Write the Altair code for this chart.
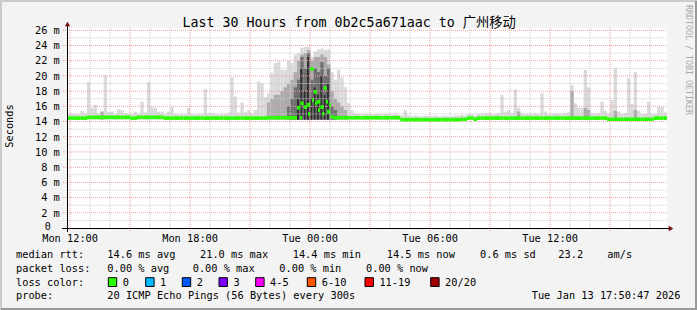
import altair as alt
import pandas as pd
from datetime import datetime

FONT = 'DejaVu Sans Mono, "Noto Sans CJK SC", monospace'

# ------------------------------------------------------------------ data
title_text = "Last 30 Hours from 0b2c5a671aac to 广州移动"
y_title = "Seconds"
watermark = "RRDTOOL / TOBI OETIKER"

start_time = datetime(2026, 1, 12, 11, 50, 47)
total_minutes = 1800
bin_minutes = 10

# median rtt per 10-minute step (ms)
median_ms = [
    14.45, 14.45, 14.45, 14.45, 14.45, 14.45, 14.55, 14.55, 14.55, 14.55,
    14.55, 14.55, 14.55, 14.55, 14.55, 14.55, 14.55, 14.55, 14.55, 14.45,
    14.45, 14.55, 14.55, 14.55, 14.55, 14.55, 14.55, 14.55, 14.55, 14.45,
    14.45, 14.45, 14.45, 14.45, 14.45, 14.45, 14.45, 14.45, 14.45, 14.45,
    14.45, 14.45, 14.45, 14.45, 14.45, 14.45, 14.45, 14.45, 14.45, 14.45,
    14.45, 14.45, 14.45, 14.45, 14.45, 14.45, 14.45, 14.45, 14.45, 14.45,
    14.5, 14.5, 14.5, 14.5, 14.5, 14.5, 14.5, 14.5, 14.5, 15.8,
    16.4, 15.9, 16.2, 20.9, 17.9, 16.6, 15.9, 18.4, 15.3, 14.6,
    14.5, 14.5, 14.5, 14.5, 14.5, 14.5, 14.5, 14.5, 14.5, 14.5,
    14.5, 14.5, 14.5, 14.5, 14.5, 14.5, 14.5, 14.5, 14.5, 14.5,
    14.25, 14.25, 14.25, 14.25, 14.25, 14.25, 14.25, 14.25, 14.25, 14.25,
    14.25, 14.25, 14.25, 14.25, 14.25, 14.25, 14.25, 14.25, 14.3, 14.3,
    14.45, 14.45, 14.3, 14.45, 14.45, 14.45, 14.45, 14.45, 14.45, 14.45,
    14.45, 14.45, 14.45, 14.45, 14.45, 14.45, 14.45, 14.45, 14.45, 14.45,
    14.45, 14.45, 14.45, 14.45, 14.45, 14.45, 14.45, 14.45, 14.45, 14.45,
    14.45, 14.45, 14.45, 14.45, 14.45, 14.45, 14.45, 14.45, 14.45, 14.45,
    14.45, 14.45, 14.3, 14.3, 14.3, 14.3, 14.3, 14.3, 14.3, 14.3,
    14.3, 14.3, 14.3, 14.3, 14.3, 14.3, 14.45, 14.45, 14.45, 14.45,
]

# highest ping per step (outer light smoke top, ms)
smoke_max_ms = [
    15.0, 15.1, 15.0, 15.0, 15.4, 15.1, 19.2, 15.8, 16.2, 15.1,
    15.3, 20.1, 15.3, 15.3, 15.0, 15.6, 15.5, 15.1, 15.0, 15.0,
    15.3, 15.0, 16.6, 15.2, 19.2, 15.9, 15.8, 15.3, 15.3, 15.0,
    15.3, 15.9, 15.0, 14.9, 15.0, 15.0, 15.8, 15.0, 14.9, 15.0,
    15.0, 18.3, 15.1, 15.1, 15.0, 14.9, 15.0, 15.0, 15.1, 19.8,
    17.3, 15.2, 16.5, 15.2, 15.5, 15.1, 15.5, 19.3, 19.0, 17.2,
    17.7, 20.4, 21.7, 21.9, 20.8, 20.8, 22.0, 21.7, 22.8, 23.0,
    23.7, 23.8, 23.8, 22.5, 23.2, 23.5, 23.6, 23.4, 23.5, 20.5,
    19.5, 20.8, 19.8, 18.5, 16.4, 15.5, 15.1, 15.0, 14.9, 15.0,
    15.0, 14.9, 15.0, 15.0, 14.9, 15.0, 15.0, 14.9, 15.1, 14.9,
    14.8, 15.5, 14.8, 14.7, 14.8, 14.7, 14.7, 14.8, 14.7, 14.7,
    14.8, 14.7, 14.7, 14.8, 14.7, 14.7, 14.8, 14.8, 14.9, 14.8,
    15.0, 15.0, 14.8, 15.0, 15.0, 15.1, 15.1, 15.0, 15.0, 15.1,
    17.5, 15.3, 15.5, 15.1, 18.2, 15.8, 15.1, 15.0, 15.0, 15.0,
    15.1, 15.0, 17.7, 15.3, 15.0, 15.0, 15.1, 15.0, 15.0, 15.1,
    15.2, 18.8, 16.4, 15.8, 15.8, 20.8, 18.5, 15.1, 15.0, 15.1,
    16.6, 15.4, 15.0, 16.8, 21.0, 15.3, 15.0, 15.1, 19.7, 16.3,
    20.5, 15.4, 15.0, 15.0, 16.6, 15.0, 15.0, 15.9, 15.9, 15.2,
]

# middle smoke band tops (step index, ms)
mid_bins = [10, 60, 61, 62, 63, 64, 65, 66, 67, 68, 69, 70, 71, 72, 73, 74, 75,
            76, 77, 78, 79, 80, 81, 82, 83, 135, 151, 155, 156, 164, 170]
mid_top_ms = [15.3, 16.5, 17.0, 17.5, 17.5, 18.0, 18.5, 19.0, 19.5, 20.5, 22.0,
              22.8, 23.0, 23.4, 22.0, 22.5, 22.5, 22.8, 22.5, 21.5, 18.0, 17.0,
              16.5, 16.0, 15.5, 15.3, 18.0, 15.8, 15.5, 15.4, 15.5]

# dark smoke band tops
dark_bins = [66, 67, 68, 69, 70, 71, 72, 73, 74, 75, 76, 77, 78, 79, 80]
dark_top_ms = [16.0, 17.0, 18.5, 19.5, 22.5, 21.0, 23.0, 19.5, 21.0, 20.5,
               21.8, 20.0, 21.0, 16.0, 15.5]

# innermost (near black) smoke tops
core_bins = [69, 70, 71, 72, 73, 74, 75, 76, 77, 78]
core_top_ms = [17.0, 21.0, 18.0, 22.5, 17.0, 18.5, 17.5, 20.0, 17.5, 19.0]

# extra median points inside the noisy period (minute from start, ms)
extra_med_min = [699, 723, 735, 744, 753, 766, 777, 786]
extra_med_ms = [14.5, 15.0, 16.8, 16.4, 15.5, 15.0, 16.6, 16.2]

y_ticks = [0, 2, 4, 6, 8, 10, 12, 14, 16, 18, 20, 22, 24, 26]
x_tick_labels = ["Mon 12:00", "Mon 18:00", "Tue 00:00", "Tue 06:00", "Tue 12:00"]
x_tick_times = [datetime(2026, 1, 12, 12), datetime(2026, 1, 12, 18),
                datetime(2026, 1, 13, 0), datetime(2026, 1, 13, 6),
                datetime(2026, 1, 13, 12)]

rtt_values = ["14.6", "21.0", "14.4", "14.5"]
rtt_kinds = ["avg", "max", "min", "now"]
rtt_sd = "0.6"
rtt_ams = "23.2"
loss_values = ["0.00", "0.00", "0.00", "0.00"]
loss_labels = ["0", "1", "2", "3", "4-5", "6-10", "11-19", "20/20"]
loss_colors = ["#26ff00", "#00b8ff", "#0059ff", "#7e00ff", "#ff00ff",
               "#ff5500", "#ff0000", "#a10000"]
probe_text = "20 ICMP Echo Pings (56 Bytes) every 300s"
stamp_text = "Tue Jan 13 17:50:47 2026"

# ------------------------------------------------------------------ layout
L, T, W, H = 67, 28, 600, 200
TOTAL_W, TOTAL_H = 697, 310
rtt_x = [107.3, 200.0, 292.7, 386.7]
loss_x = [107.3, 192.7, 279.3, 366.0]
box_x = [108.3, 145.7, 182.3, 219.0, 255.7, 307.3, 365.0, 430.7]


def px(x):
    return x - L


def py(y):
    return y - T


xs = alt.Scale(domain=[0, total_minutes], nice=False, zero=False)
ys = alt.Scale(domain=[0, 26.3], nice=False, zero=False)
one = pd.DataFrame({"k": [0]})

n = len(median_ms)
assert n == len(smoke_max_ms) == 180
floor = [min(m, 14.45) - 0.2 for m in median_ms]
bins = pd.DataFrame({
    "t0": [i * bin_minutes for i in range(n)],
    "t1": [(i + 1) * bin_minutes for i in range(n)],
    "lo": floor,
    "hi": smoke_max_ms,
    "m0": [m - 0.24 for m in median_ms],
    "m1": [m + 0.24 for m in median_ms],
})


def band(idx, tops, width=1.0):
    return pd.DataFrame({
        "t0": [i * bin_minutes for i in idx],
        "t1": [(i + width) * bin_minutes for i in idx],
        "lo": [floor[i] for i in idx],
        "hi": tops,
    })


def smoke(df, color):
    return alt.Chart(df).mark_rect(color=color, strokeWidth=0).encode(
        x=alt.X("t0:Q", scale=xs, axis=None),
        x2="t1:Q",
        y=alt.Y("lo:Q", scale=ys, axis=None),
        y2="hi:Q",
    )


layers = []
layers.append(smoke(bins, "#dadada"))
layers.append(smoke(band(mid_bins, mid_top_ms), "#ababab"))
layers.append(smoke(band(dark_bins, dark_top_ms), "#6e6e6e"))
layers.append(smoke(band(core_bins, core_top_ms, 0.55), "#2c2c2c"))

# grid
hour_marks = []
k = 0
while True:
    m = (datetime(2026, 1, 12, 12) - start_time).total_seconds() / 60 + 60 * k
    if m >= total_minutes:
        break
    hour_marks.append((m, (12 + k) % 3 == 0))
    k += 1
vgrid = pd.DataFrame({"m": [h[0] for h in hour_marks], "major": [h[1] for h in hour_marks]})
hgrid = pd.DataFrame({"v": list(range(1, 27))})
hgrid["major"] = hgrid.v % 2 == 0

GREY = "#c8c8c8"
RED = "#e9a0a0"
layers.append(alt.Chart(hgrid[~hgrid.major]).mark_rule(color=GREY, strokeDash=[1, 1], strokeWidth=1).encode(
    y=alt.Y("v:Q", scale=ys, axis=None), x=alt.value(0.5), x2=alt.value(W - 1)))
layers.append(alt.Chart(vgrid[~vgrid.major]).mark_rule(color=GREY, strokeDash=[1, 1], strokeWidth=1).encode(
    x=alt.X("m:Q", scale=xs, axis=None), y=alt.value(0), y2=alt.value(H)))
layers.append(alt.Chart(hgrid[hgrid.major]).mark_rule(color=RED, strokeDash=[1, 1], strokeWidth=1).encode(
    y=alt.Y("v:Q", scale=ys, axis=None), x=alt.value(-4), x2=alt.value(W - 1)))
layers.append(alt.Chart(vgrid[vgrid.major]).mark_rule(color=RED, strokeDash=[1, 1], strokeWidth=1).encode(
    x=alt.X("m:Q", scale=xs, axis=None), y=alt.value(0), y2=alt.value(H + 4)))

# median
layers.append(alt.Chart(bins).mark_rect(color="#26ff00", strokeWidth=0).encode(
    x=alt.X("t0:Q", scale=xs, axis=None), x2="t1:Q",
    y=alt.Y("m0:Q", scale=ys, axis=None), y2="m1:Q"))
extra = pd.DataFrame({
    "t0": extra_med_min,
    "t1": [m + 6 for m in extra_med_min],
    "m0": [v - 0.24 for v in extra_med_ms],
    "m1": [v + 0.24 for v in extra_med_ms],
})
layers.append(alt.Chart(extra).mark_rect(color="#26ff00", strokeWidth=0).encode(
    x=alt.X("t0:Q", scale=xs, axis=None), x2="t1:Q",
    y=alt.Y("m0:Q", scale=ys, axis=None), y2="m1:Q"))

# axes
layers.append(alt.Chart(one).mark_rule(color="black", strokeWidth=1).encode(
    x=alt.value(-5), x2=alt.value(W + 2), y=alt.value(H + 0.5)))
layers.append(alt.Chart(one).mark_rule(color="black", strokeWidth=1).encode(
    x=alt.value(0.5), y=alt.value(-2), y2=alt.value(H + 4)))
layers.append(alt.Chart(one).mark_point(shape="triangle-right", filled=True, color="#7a0f0f", size=28, opacity=1).encode(
    x=alt.value(W + 4), y=alt.value(H + 0.5)))
layers.append(alt.Chart(one).mark_point(shape="triangle-up", filled=True, color="#7a0f0f", size=28, opacity=1).encode(
    x=alt.value(0.5), y=alt.value(-4)))

# y tick labels
ylab = pd.DataFrame({"v": y_ticks, "lab": [f"{v} m" if v else "0" for v in y_ticks]})
layers.append(alt.Chart(ylab[ylab.v > 0]).mark_text(font=FONT, fontSize=10.3, align="right",
                                                   baseline="alphabetic", dy=3.8, color="black").encode(
    y=alt.Y("v:Q", scale=ys, axis=None), x=alt.value(px(59.8)), text="lab:N"))
layers.append(alt.Chart(ylab[ylab.v == 0]).mark_text(font=FONT, fontSize=10.0, align="right",
                                                    baseline="alphabetic", dy=1.8, color="black").encode(
    y=alt.Y("v:Q", scale=ys, axis=None), x=alt.value(px(50.8)), text="lab:N"))

# x tick labels
xlab = pd.DataFrame({
    "m": [(t - start_time).total_seconds() / 60 for t in x_tick_times],
    "lab": x_tick_labels,
})
layers.append(alt.Chart(xlab).mark_text(font=FONT, fontSize=10.3, align="center",
                                        baseline="alphabetic", color="black").encode(
    x=alt.X("m:Q", scale=xs, axis=None), y=alt.value(py(242.0)), text="lab:N"))


def label(txt, x, y, size=10.3, align="left", baseline="alphabetic", color="black", angle=0):
    return alt.Chart(one).mark_text(text=txt, font=FONT, fontSize=size, align=align,
                                    baseline=baseline, color=color, angle=angle).encode(
        x=alt.value(px(x)), y=alt.value(py(y)))


layers.append(label(title_text, 182.5, 26.5, size=13.3))
layers.append(label(y_title, 13.3, 126, align="center", angle=270))
layers.append(label(watermark, 685.5, 5, size=8.3, color="#a8a8a8", angle=90))

# legend lines
layers.append(label("median rtt:", 16, 258.3))
for v, kd, x in zip(rtt_values, rtt_kinds, rtt_x):
    layers.append(label(f"{v} ms {kd}", x, 258.3))
layers.append(label(f"{rtt_sd} ms sd", 480, 258.3))
layers.append(label(rtt_ams, 558.3, 258.3))
layers.append(label("am/s", 607.3, 258.3))

layers.append(label("packet loss:", 16, 271.7))
for v, kd, x in zip(loss_values, rtt_kinds, loss_x):
    layers.append(label(f"{v} % {kd}", x, 271.7))

layers.append(label("loss color:", 16, 285.6))
for lab, col, bx in zip(loss_labels, loss_colors, box_x):
    layers.append(alt.Chart(one).mark_rect(fill=col, stroke="black", strokeWidth=1).encode(
        x=alt.value(px(bx)), x2=alt.value(px(bx + 8.4)),
        y=alt.value(py(277.7)), y2=alt.value(py(286.5))))
    layers.append(label(lab, bx + 14.4, 285.6))

layers.append(label("probe:", 16, 299.3))
layers.append(label(probe_text, 107.3, 299.3))
layers.append(label(stamp_text, 680.5, 299.3, align="right"))

# frame
layers.append(alt.Chart(one).mark_rule(color="#cbcbcb", strokeWidth=2).encode(
    x=alt.value(px(0)), x2=alt.value(px(TOTAL_W)), y=alt.value(py(1))))
layers.append(alt.Chart(one).mark_rule(color="#cbcbcb", strokeWidth=2).encode(
    x=alt.value(px(1)), y=alt.value(py(0)), y2=alt.value(py(TOTAL_H))))
layers.append(alt.Chart(one).mark_rule(color="#999999", strokeWidth=2).encode(
    x=alt.value(px(1)), x2=alt.value(px(TOTAL_W)), y=alt.value(py(TOTAL_H - 1))))
layers.append(alt.Chart(one).mark_rule(color="#999999", strokeWidth=2).encode(
    x=alt.value(px(TOTAL_W - 1)), y=alt.value(py(1)), y2=alt.value(py(TOTAL_H))))

chart = alt.layer(*layers).properties(
    width=W, height=H,
    padding={"left": L, "top": T, "right": TOTAL_W - L - W, "bottom": TOTAL_H - T - H},
    autosize=alt.AutoSizeParams(type="none"),
).configure(background="#f3f3f3").configure_view(stroke=None, fill="white")

chart.save("out.html", embed_options={"renderer": "svg", "actions": False})
